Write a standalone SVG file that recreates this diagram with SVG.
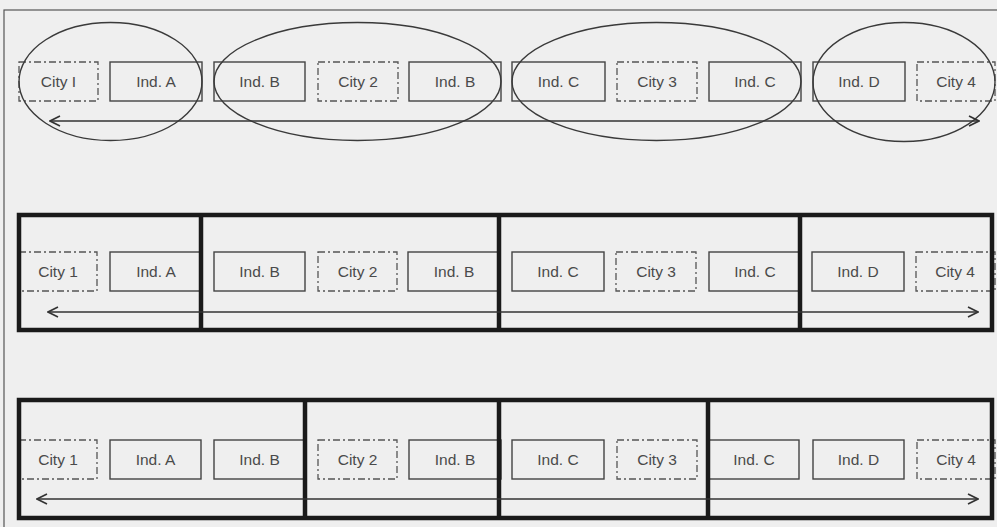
<svg xmlns="http://www.w3.org/2000/svg" width="997" height="527" viewBox="0 0 997 527">
<defs>
<style>
.bg{fill:#efefef}
.frame{fill:none;stroke:#555;stroke-width:1.2}
.ind{fill:none;stroke:#444;stroke-width:1.4}
.city{fill:none;stroke:#555;stroke-width:1.3;stroke-dasharray:7,3,2,3}
.lbl{font-family:"Liberation Sans",Arial,sans-serif;font-size:15.5px;fill:#4a4a4a;text-anchor:middle}
.ell{fill:none;stroke:#3a3a3a;stroke-width:1.4}
.thick{fill:none;stroke:#1a1a1a;stroke-width:4.5}
.arr{fill:none;stroke:#333;stroke-width:1.4;marker-start:url(#ah);marker-end:url(#ah)}
</style>
<marker id="ah" viewBox="0 0 12 12" refX="11" refY="6" markerWidth="12" markerHeight="12" markerUnits="userSpaceOnUse" orient="auto-start-reverse">
<path d="M1,1 L11,6 L1,11" fill="none" stroke="#333" stroke-width="1.6"/>
</marker>
</defs>
<rect class="bg" x="0" y="0" width="997" height="527"/>
<rect class="frame" x="4" y="10" width="1000" height="530"/>

<!-- Row 1 -->
<g id="row1">
<g id="r1-city1"><rect class="city" x="19" y="62" width="79" height="39"/><text class="lbl" x="58.5" y="87">City I</text></g>
<g id="r1-indA"><rect class="ind" x="110" y="62" width="92" height="39"/><text class="lbl" x="156" y="87">Ind. A</text></g>
<g id="r1-indB1"><rect class="ind" x="214" y="62" width="91" height="39"/><text class="lbl" x="259.5" y="87">Ind. B</text></g>
<g id="r1-city2"><rect class="city" x="318" y="62" width="80" height="39"/><text class="lbl" x="358" y="87">City 2</text></g>
<g id="r1-indB2"><rect class="ind" x="409" y="62" width="92" height="39"/><text class="lbl" x="455" y="87">Ind. B</text></g>
<g id="r1-indC1"><rect class="ind" x="512" y="62" width="93" height="39"/><text class="lbl" x="558.5" y="87">Ind. C</text></g>
<g id="r1-city3"><rect class="city" x="617" y="62" width="80" height="39"/><text class="lbl" x="657" y="87">City 3</text></g>
<g id="r1-indC2"><rect class="ind" x="709" y="62" width="92" height="39"/><text class="lbl" x="755" y="87">Ind. C</text></g>
<g id="r1-indD"><rect class="ind" x="813" y="62" width="92" height="39"/><text class="lbl" x="859" y="87">Ind. D</text></g>
<g id="r1-city4"><rect class="city" x="917" y="62" width="78" height="39"/><text class="lbl" x="956" y="87">City 4</text></g>
<g id="r1-groups">
<ellipse class="ell" cx="110.5" cy="81.5" rx="91.5" ry="59"/>
<ellipse class="ell" cx="357.5" cy="81.5" rx="143.5" ry="59"/>
<ellipse class="ell" cx="656.5" cy="81.5" rx="144.5" ry="59"/>
<ellipse class="ell" cx="904" cy="82" rx="91" ry="59.5"/>
</g>
</g>

<!-- Row 2 -->
<g id="row2">
<g id="r2-city1"><rect class="city" x="19" y="252" width="78" height="39"/><text class="lbl" x="58" y="277">City 1</text></g>
<g id="r2-indA"><rect class="ind" x="110" y="252" width="92" height="39"/><text class="lbl" x="156" y="277">Ind. A</text></g>
<g id="r2-indB1"><rect class="ind" x="214" y="252" width="91" height="39"/><text class="lbl" x="259.5" y="277">Ind. B</text></g>
<g id="r2-city2"><rect class="city" x="318" y="252" width="79" height="39"/><text class="lbl" x="357.5" y="277">City 2</text></g>
<g id="r2-indB2"><rect class="ind" x="408" y="252" width="92" height="39"/><text class="lbl" x="454" y="277">Ind. B</text></g>
<g id="r2-indC1"><rect class="ind" x="512" y="252" width="92" height="39"/><text class="lbl" x="558" y="277">Ind. C</text></g>
<g id="r2-city3"><rect class="city" x="616" y="252" width="80" height="39"/><text class="lbl" x="656" y="277">City 3</text></g>
<g id="r2-indC2"><rect class="ind" x="709" y="252" width="92" height="39"/><text class="lbl" x="755" y="277">Ind. C</text></g>
<g id="r2-indD"><rect class="ind" x="812" y="252" width="92" height="39"/><text class="lbl" x="858" y="277">Ind. D</text></g>
<g id="r2-city4"><rect class="city" x="916" y="252" width="79" height="39"/><text class="lbl" x="955" y="277">City 4</text></g>
<g id="r2-groups">
<rect class="thick" x="19" y="215" width="973" height="115"/>
<line class="thick" x1="201" y1="215" x2="201" y2="330"/>
<line class="thick" x1="499" y1="215" x2="499" y2="330"/>
<line class="thick" x1="800" y1="215" x2="800" y2="330"/>
</g>
</g>

<!-- Row 3 -->
<g id="row3">
<g id="r3-city1"><rect class="city" x="19" y="440" width="78" height="39"/><text class="lbl" x="58" y="465">City 1</text></g>
<g id="r3-indA"><rect class="ind" x="110" y="440" width="91" height="39"/><text class="lbl" x="155.5" y="465">Ind. A</text></g>
<g id="r3-indB1"><rect class="ind" x="214" y="440" width="91" height="39"/><text class="lbl" x="259.5" y="465">Ind. B</text></g>
<g id="r3-city2"><rect class="city" x="318" y="440" width="79" height="39"/><text class="lbl" x="357.5" y="465">City 2</text></g>
<g id="r3-indB2"><rect class="ind" x="409" y="440" width="92" height="39"/><text class="lbl" x="455" y="465">Ind. B</text></g>
<g id="r3-indC1"><rect class="ind" x="512" y="440" width="92" height="39"/><text class="lbl" x="558" y="465">Ind. C</text></g>
<g id="r3-city3"><rect class="city" x="617" y="440" width="80" height="39"/><text class="lbl" x="657" y="465">City 3</text></g>
<g id="r3-indC2"><rect class="ind" x="709" y="440" width="90" height="39"/><text class="lbl" x="754" y="465">Ind. C</text></g>
<g id="r3-indD"><rect class="ind" x="813" y="440" width="91" height="39"/><text class="lbl" x="858.5" y="465">Ind. D</text></g>
<g id="r3-city4"><rect class="city" x="917" y="440" width="78" height="39"/><text class="lbl" x="956" y="465">City 4</text></g>
<g id="r3-groups">
<rect class="thick" x="19" y="400" width="973" height="118"/>
<line class="thick" x1="305" y1="400" x2="305" y2="518"/>
<line class="thick" x1="499" y1="400" x2="499" y2="518"/>
<line class="thick" x1="708" y1="400" x2="708" y2="518"/>
</g>
</g>

<g id="connectors">
<line class="arr" x1="50" y1="121" x2="979" y2="121"/>
<line class="arr" x1="48" y1="312" x2="978" y2="312"/>
<line class="arr" x1="37" y1="499" x2="978" y2="499"/>
</g>
</svg>
